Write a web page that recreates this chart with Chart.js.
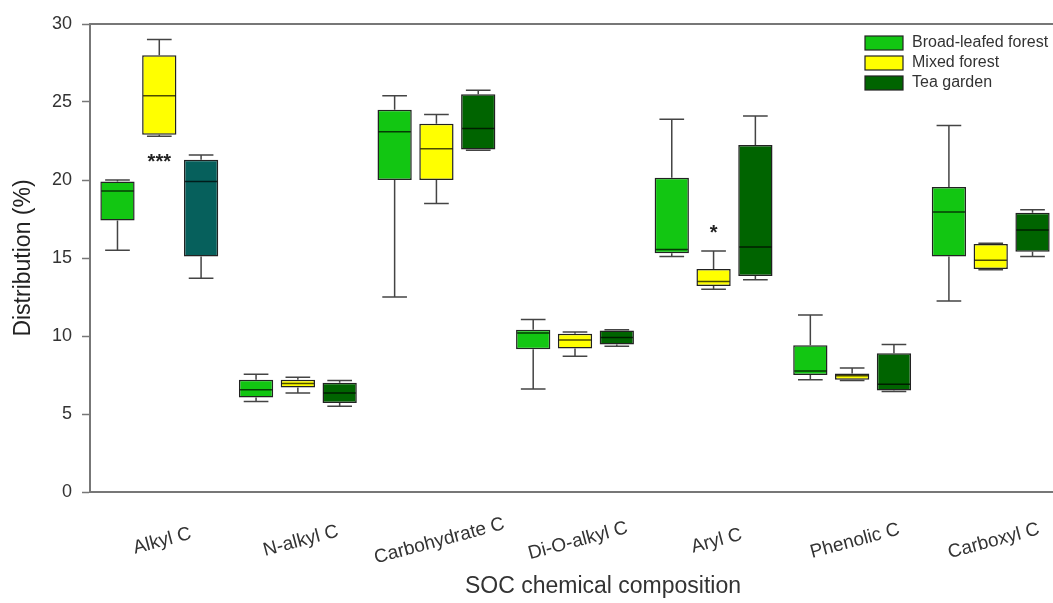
<!DOCTYPE html>
<html>
<head>
<meta charset="utf-8">
<script src="https://cdn.jsdelivr.net/npm/chart.js@4"></script>
<style>
  html, body { margin: 0; padding: 0; background: #fff; overflow: hidden; }
  #wrap { width: 1060px; height: 603px; position: relative; }
</style>
</head>
<body>
<div id="wrap"><canvas id="boxChart"></canvas></div>
<script>
// categories and series (five-number summary: min, q1, median, q3, max)
const categories = ['Alkyl C', 'N-alkyl C', 'Carbohydrate C', 'Di-O-alkyl C', 'Aryl C', 'Phenolic C', 'Carboxyl C'];
const seriesNames = ['Broad-leafed forest', 'Mixed forest', 'Tea garden'];

const broadLeafed = [
  [15.5, 17.4, 19.3, 19.9, 20.0],
  [5.8, 6.05, 6.55, 7.2, 7.55],
  [12.5, 20.0, 23.1, 24.5, 25.4],
  [6.6, 9.15, 10.2, 10.4, 11.05],
  [15.1, 15.3, 15.55, 20.15, 23.9],
  [7.2, 7.5, 7.75, 9.4, 11.35],
  [12.25, 15.1, 17.95, 19.55, 23.5]
];
const mixedForest = [
  [22.8, 22.9, 25.4, 28.0, 29.0],
  [6.35, 6.7, 6.95, 7.2, 7.35],
  [18.5, 20.0, 22.0, 23.6, 24.2],
  [8.7, 9.2, 9.75, 10.15, 10.25],
  [13.0, 13.2, 13.5, 14.3, 15.45],
  [7.15, 7.2, 7.45, 7.6, 7.95],
  [14.25, 14.3, 14.85, 15.9, 15.95]
];
const teaGarden = [
  [13.7, 15.1, 19.9, 21.3, 21.6],
  [5.5, 5.7, 6.35, 7.0, 7.15],
  [21.9, 21.95, 23.3, 25.5, 25.75],
  [9.35, 9.45, 9.9, 10.35, 10.4],
  [13.6, 13.85, 15.7, 22.25, 24.1],
  [6.45, 6.5, 6.9, 8.9, 9.45],
  [15.1, 15.4, 16.8, 17.9, 18.1]
];

// significance marks (shown over the mixed forest box) and the value they sit at
const sigMarks = ['***', '', '', '', '*', '', ''];
const sigAt = [21.4, 0, 0, 0, 16.8, 0, 0];

const yTicks = [0, 5, 10, 15, 20, 25, 30];

const GREEN = '#12c612';
const YELLOW = '#ffff00';
const DARK = '#006400';
const TEAL = '#06605c';
const FONT = '"Liberation Sans", Arial, sans-serif';

const allSeries = [broadLeafed, mixedForest, teaGarden];

const boxPlugin = {
  id: 'boxParts',
  beforeDatasetsDraw(chart) {
    const ctx = chart.ctx;
    const y = chart.scales.y;
    ctx.save();
    ctx.strokeStyle = '#444';
    ctx.lineWidth = 1.5;
    allSeries.forEach((series, di) => {
      const meta = chart.getDatasetMeta(di);
      meta.data.forEach((bar, i) => {
        const s = series[i];
        const cap = bar.width * 0.36;
        const yMin = y.getPixelForValue(s[0]);
        const yQ1 = y.getPixelForValue(s[1]);
        const yQ3 = y.getPixelForValue(s[3]);
        const yMax = y.getPixelForValue(s[4]);
        ctx.beginPath();
        ctx.moveTo(bar.x, yQ3); ctx.lineTo(bar.x, yMax);
        ctx.moveTo(bar.x - cap, yMax); ctx.lineTo(bar.x + cap, yMax);
        ctx.moveTo(bar.x, yQ1); ctx.lineTo(bar.x, yMin);
        ctx.moveTo(bar.x - cap, yMin); ctx.lineTo(bar.x + cap, yMin);
        ctx.stroke();
      });
    });
    ctx.restore();
  },
  afterDatasetsDraw(chart) {
    const ctx = chart.ctx;
    const y = chart.scales.y;
    ctx.save();
    ctx.strokeStyle = 'rgba(0,0,0,0.7)';
    ctx.lineWidth = 1.5;
    allSeries.forEach((series, di) => {
      const meta = chart.getDatasetMeta(di);
      meta.data.forEach((bar, i) => {
        const ym = y.getPixelForValue(series[i][2]);
        const half = bar.width / 2 - 1;
        ctx.beginPath();
        ctx.moveTo(bar.x - half, ym); ctx.lineTo(bar.x + half, ym);
        ctx.stroke();
      });
    });
    // significance marks
    const mixedMeta = chart.getDatasetMeta(1);
    ctx.fillStyle = '#222';
    ctx.font = 'bold 20px ' + FONT;
    ctx.textAlign = 'center';
    ctx.textBaseline = 'middle';
    sigMarks.forEach((m, i) => {
      if (!m) return;
      ctx.fillText(m, mixedMeta.data[i].x, y.getPixelForValue(sigAt[i]) + 4);
    });
    ctx.restore();
  },
  afterDraw(chart) {
    const ctx = chart.ctx;
    const area = chart.chartArea;
    const x = chart.scales.x;
    ctx.save();
    // top frame line
    ctx.strokeStyle = '#777';
    ctx.lineWidth = 2;
    ctx.beginPath();
    ctx.moveTo(area.left, area.top);
    ctx.lineTo(area.right, area.top);
    ctx.stroke();

    // rotated category labels
    ctx.fillStyle = '#333';
    ctx.font = '19px ' + FONT;
    ctx.textAlign = 'center';
    ctx.textBaseline = 'middle';
    categories.forEach((c, i) => {
      ctx.save();
      ctx.translate(x.getPixelForTick(i) + 3, area.bottom + 49);
      ctx.rotate(-15 * Math.PI / 180);
      ctx.fillText(c, 0, 0);
      ctx.restore();
    });

    // x axis title
    ctx.font = '23px ' + FONT;
    ctx.textBaseline = 'alphabetic';
    ctx.fillText('SOC chemical composition', 603, 593);

    // legend
    const colors = [GREEN, YELLOW, DARK];
    ctx.font = '16px ' + FONT;
    ctx.textAlign = 'left';
    ctx.textBaseline = 'middle';
    seriesNames.forEach((n, i) => {
      const ly = 36 + i * 20;
      ctx.fillStyle = colors[i];
      ctx.fillRect(865, ly, 38, 14);
      ctx.strokeStyle = '#222';
      ctx.lineWidth = 1.2;
      ctx.strokeRect(865, ly, 38, 14);
      ctx.fillStyle = '#333';
      ctx.fillText(n, 912, ly + 7);
    });
    ctx.restore();
  }
};

const ctx = document.getElementById('boxChart').getContext('2d');

new Chart(ctx, {
  type: 'bar',
  data: {
    labels: categories,
    datasets: [
      {
        label: seriesNames[0],
        data: broadLeafed.map(s => [s[1], s[3]]),
        backgroundColor: GREEN
      },
      {
        label: seriesNames[1],
        data: mixedForest.map(s => [s[1], s[3]]),
        backgroundColor: YELLOW
      },
      {
        label: seriesNames[2],
        data: teaGarden.map(s => [s[1], s[3]]),
        backgroundColor: categories.map((c, i) => i === 0 ? TEAL : DARK)
      }
    ]
  },
  options: {
    responsive: true,
    maintainAspectRatio: false,
    animation: false,
    layout: { padding: { top: 24, right: 0, bottom: 0, left: 0 } },
    datasets: {
      bar: {
        borderColor: '#222',
        borderWidth: 1.5,
        borderSkipped: false,
        categoryPercentage: 0.905,
        barPercentage: 0.82
      }
    },
    plugins: {
      legend: { display: false },
      tooltip: { enabled: false }
    },
    scales: {
      x: {
        grid: { display: false },
        border: { display: true, color: '#777', width: 2 },
        ticks: { display: false },
        afterFit(scale) { scale.height = 111; }
      },
      y: {
        min: 0,
        max: 30,
        afterBuildTicks(scale) { scale.ticks = yTicks.map(v => ({ value: v })); },
        grid: {
          drawOnChartArea: false,
          drawTicks: true,
          tickLength: 8,
          color: '#777',
          tickWidth: 1.5
        },
        border: { display: true, color: '#777', width: 2 },
        ticks: {
          color: '#333',
          padding: 10,
          font: { family: FONT, size: 18 }
        },
        title: {
          display: true,
          text: 'Distribution (%)',
          color: '#222',
          font: { family: FONT, size: 23 },
          padding: { top: 10, bottom: 0 }
        },
        afterFit(scale) { scale.width = 90; }
      }
    }
  },
  plugins: [boxPlugin]
});
</script>
</body>
</html>
